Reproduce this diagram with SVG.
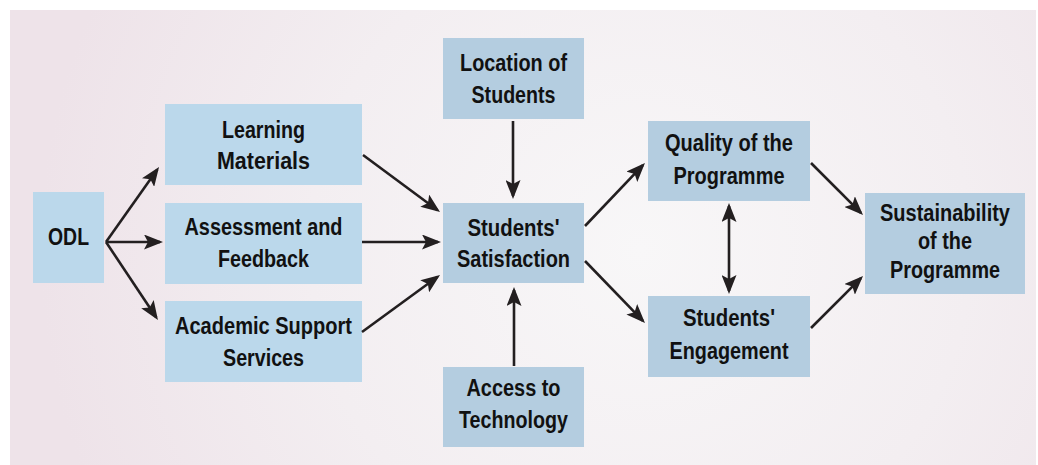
<svg xmlns="http://www.w3.org/2000/svg" width="1038" height="465" viewBox="0 0 1038 465">
  <defs>
    <radialGradient id="bg" gradientUnits="userSpaceOnUse" cx="640" cy="250" r="600">
      <stop offset="0" stop-color="#f8f7f8"/>
      <stop offset="0.55" stop-color="#f3eef1"/>
      <stop offset="1" stop-color="#eee3e9"/>
    </radialGradient>
    <marker id="head" viewBox="0 0 19 15" refX="16" refY="7.5" markerWidth="19" markerHeight="15" markerUnits="userSpaceOnUse" orient="auto-start-reverse">
      <path d="M0,0 L19,7.5 L0,15 L4,7.5 Z" fill="#231f20"/>
    </marker>
    <style>
      .box-a { fill: #bbd8eb; }
      .box-b { fill: #b4cde0; }
      .lbl { font-family: "Liberation Sans", Arial, sans-serif; font-weight: bold; font-size: 23px; fill: #111111; text-anchor: middle; }
      .conn line { stroke: #231f20; stroke-width: 2.6; fill: none; marker-end: url(#head); }
    </style>
  </defs>

  <rect x="0" y="0" width="1038" height="465" fill="#ffffff"/>
  <rect x="10" y="10" width="1026" height="455" fill="url(#bg)"/>

  <g id="odl">
    <rect class="box-a" x="33" y="192" width="71" height="91"/>
    <text class="lbl" x="68.5" y="245" textLength="41" lengthAdjust="spacingAndGlyphs">ODL</text>
  </g>

  <g id="learning-materials">
    <rect class="box-a" x="165" y="104" width="197" height="81"/>
    <text class="lbl" x="263.5" y="138" textLength="83" lengthAdjust="spacingAndGlyphs">Learning</text>
    <text class="lbl" x="263.5" y="169" textLength="93" lengthAdjust="spacingAndGlyphs">Materials</text>
  </g>

  <g id="assessment-feedback">
    <rect class="box-a" x="165" y="203" width="197" height="81"/>
    <text class="lbl" x="263.5" y="235" textLength="158" lengthAdjust="spacingAndGlyphs">Assessment and</text>
    <text class="lbl" x="263.5" y="267" textLength="91" lengthAdjust="spacingAndGlyphs">Feedback</text>
  </g>

  <g id="academic-support">
    <rect class="box-a" x="165" y="301" width="197" height="81"/>
    <text class="lbl" x="263.5" y="334" textLength="177" lengthAdjust="spacingAndGlyphs">Academic Support</text>
    <text class="lbl" x="263.5" y="366" textLength="81" lengthAdjust="spacingAndGlyphs">Services</text>
  </g>

  <g id="location-of-students">
    <rect class="box-b" x="443" y="38" width="141" height="81"/>
    <text class="lbl" x="513.5" y="71" textLength="107" lengthAdjust="spacingAndGlyphs">Location of</text>
    <text class="lbl" x="513.5" y="103" textLength="84" lengthAdjust="spacingAndGlyphs">Students</text>
  </g>

  <g id="students-satisfaction">
    <rect class="box-b" x="443" y="203" width="141" height="80"/>
    <text class="lbl" x="513.5" y="236" textLength="92" lengthAdjust="spacingAndGlyphs">Students'</text>
    <text class="lbl" x="513.5" y="267" textLength="113" lengthAdjust="spacingAndGlyphs">Satisfaction</text>
  </g>

  <g id="access-to-technology">
    <rect class="box-b" x="443" y="367" width="141" height="80"/>
    <text class="lbl" x="513.5" y="396" textLength="94" lengthAdjust="spacingAndGlyphs">Access to</text>
    <text class="lbl" x="513.5" y="428" textLength="109" lengthAdjust="spacingAndGlyphs">Technology</text>
  </g>

  <g id="quality-of-programme">
    <rect class="box-b" x="648" y="121" width="162" height="80"/>
    <text class="lbl" x="729" y="151" textLength="128" lengthAdjust="spacingAndGlyphs">Quality of the</text>
    <text class="lbl" x="729" y="184" textLength="111" lengthAdjust="spacingAndGlyphs">Programme</text>
  </g>

  <g id="students-engagement">
    <rect class="box-b" x="648" y="296" width="162" height="81"/>
    <text class="lbl" x="729" y="326" textLength="92" lengthAdjust="spacingAndGlyphs">Students'</text>
    <text class="lbl" x="729" y="359" textLength="119" lengthAdjust="spacingAndGlyphs">Engagement</text>
  </g>

  <g id="sustainability">
    <rect class="box-b" x="865" y="193" width="160" height="101"/>
    <text class="lbl" x="945" y="221" textLength="130" lengthAdjust="spacingAndGlyphs">Sustainability</text>
    <text class="lbl" x="945" y="249" textLength="54" lengthAdjust="spacingAndGlyphs">of the</text>
    <text class="lbl" x="945" y="278" textLength="110" lengthAdjust="spacingAndGlyphs">Programme</text>
  </g>

  <g id="connectors" class="conn">
    <line x1="106" y1="242" x2="157.3" y2="169.5"/>
    <line x1="106" y1="242" x2="160" y2="242"/>
    <line x1="106" y1="242" x2="156.3" y2="317.5"/>
    <line x1="363" y1="155" x2="437.6" y2="210.2"/>
    <line x1="362" y1="242" x2="438" y2="242"/>
    <line x1="362" y1="332" x2="437.6" y2="276.8"/>
    <line x1="513" y1="121" x2="513" y2="196"/>
    <line x1="514" y1="366" x2="514" y2="290"/>
    <line x1="585" y1="226" x2="642.9" y2="165.2"/>
    <line x1="585" y1="261" x2="642.9" y2="320.8"/>
    <line x1="729" y1="206" x2="729" y2="291" style="marker-start:url(#head)"/>
    <line x1="811" y1="163" x2="860.9" y2="212.9"/>
    <line x1="811" y1="328" x2="860.9" y2="278.1"/>
  </g>
</svg>
